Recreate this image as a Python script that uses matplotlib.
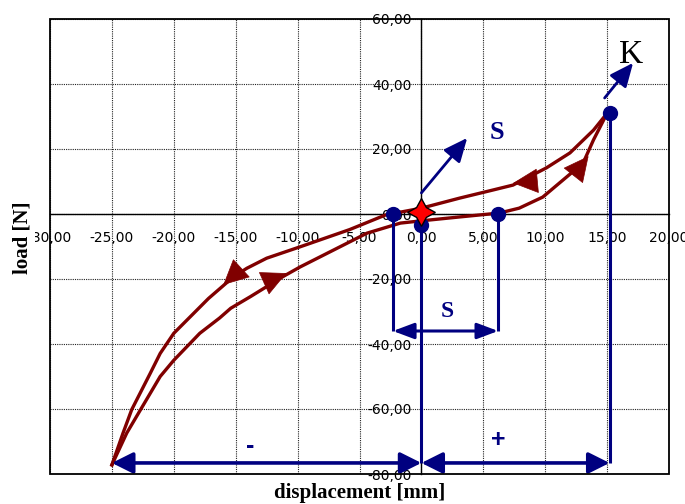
import matplotlib
matplotlib.use('Agg')
import matplotlib.pyplot as plt
from matplotlib.patches import Rectangle

# ---------------- data ----------------
x_ticks = [-30, -25, -20, -15, -10, -5, 0, 5, 10, 15, 20]
x_tick_labels = ["-30,00", "-25,00", "-20,00", "-15,00", "-10,00", "-5,00",
                 "0,00", "5,00", "10,00", "15,00", "20,00"]
y_ticks = [-80, -60, -40, -20, 0, 20, 40, 60]
y_tick_labels = ["-80,00", "-60,00", "-40,00", "-20,00", "0,00", "20,00", "40,00", "60,00"]

# unloading branch (from K down to the negative extreme)
upper_x = [15.0, 13.9, 12.0, 10.1, 7.4, 5.8, 3.1, 0.0, -2.9, -5.8, -9.8, -12.5,
           -14.1, -15.2, -17.2, -20.0, -21.1, -21.9, -23.4, -24.1, -25.0]
upper_y = [31.0, 25.8, 18.8, 14.2, 8.9, 7.4, 4.9, 1.8, -0.3, -4.8, -10.1, -13.6,
           -16.7, -19.4, -26.0, -36.7, -42.9, -49.0, -60.2, -67.4, -77.2]
# loading branch (from negative extreme back up to K)
lower_x = [-25.0, -23.8, -22.7, -21.1, -20.0, -17.9, -16.3, -15.4, -13.8, -11.2,
           -9.8, -7.1, -4.4, -1.7, 0.0, 3.1, 6.3, 7.9, 9.8, 12.2, 13.1, 13.9, 15.0]
lower_y = [-77.2, -67.4, -60.3, -50.0, -45.0, -36.7, -32.0, -29.0, -25.4, -19.3,
           -16.3, -11.1, -5.9, -2.8, -2.1, -0.9, 0.3, 1.8, 5.2, 12.9, 16.0, 22.8, 31.0]

# direction arrows on the curves: (base centre, tip)
curve_arrow_tails = [(9.1, 10.1), (-14.6, -16.9), (-12.7, -21.3), (12.3, 12.0)]
curve_arrow_tips = [(7.4, 9.5), (-16.0, -21.8), (-10.9, -18.2), (13.5, 17.8)]

# navy markers
marker_x = [-2.3, 0.0, 6.2, 15.2]
marker_y = [0.0, -3.3, 0.0, 31.2]
star_x = [0.0]
star_y = [0.6]

# navy construction lines: (x, y_top, y_bottom)
vlines = [(-2.3, 0.0, -36.0), (6.2, 0.0, -36.0), (0.0, -3.3, -76.6), (15.2, 31.2, -76.6)]
# double-headed dimension arrows: (x_start, x_end, y)
dim_small = [(-2.3, 6.2, -36.0)]
dim_big = [(-25.0, 0.0, -76.6), (0.0, 15.2, -76.6)]
# single arrows: (x0, y0, x1, y1)
single_arrows = [(0.0, 6.5, 3.7, 23.4), (14.8, 35.7, 17.1, 46.5)]

# ---------------- styling ----------------
maroon = '#800000'
navy = '#000080'
tick_family = ['Liberation Sans Narrow', 'Liberation Sans', 'DejaVu Sans']
serif = ['Liberation Serif', 'DejaVu Serif']

fig = plt.figure(figsize=(6.85, 5.04), dpi=100)
ax = fig.add_axes([50 / 685, 30 / 504, 619 / 685, 455 / 504])
ax.set_xlim(-30, 20)
ax.set_ylim(-80, 60)

ax.set_xticks(x_ticks)
ax.set_xticklabels(x_tick_labels, family=tick_family, fontsize=11)
ax.set_yticks(y_ticks)
ax.set_yticklabels(y_tick_labels, family=tick_family, fontsize=11)

for s in ['top', 'right']:
    ax.spines[s].set_visible(False)
ax.spines['left'].set_position(('data', 0))
ax.spines['bottom'].set_position(('data', 0))
ax.spines['left'].set_linewidth(1.0)
ax.spines['bottom'].set_linewidth(1.0)
ax.tick_params(axis='x', length=0, pad=12)
ax.tick_params(axis='y', length=0, pad=7)
ax.grid(True, color='#222222', linestyle=(0, (1, 1)), linewidth=0.8)
ax.set_axisbelow(True)
ax.add_patch(Rectangle((0, 0), 1, 1, transform=ax.transAxes, fill=False,
                       edgecolor='black', lw=1.3, clip_on=False, zorder=5))

# curves
ax.plot(upper_x, upper_y, color=maroon, lw=2.4, solid_joinstyle='round', zorder=3)
ax.plot(lower_x, lower_y, color=maroon, lw=2.4, solid_joinstyle='round', zorder=3)
for (tx, ty), (hx, hy) in zip(curve_arrow_tails, curve_arrow_tips):
    ax.annotate('', xy=(hx, hy), xytext=(tx, ty),
                arrowprops=dict(arrowstyle='-|>,head_length=0.85,head_width=0.42',
                                mutation_scale=20, color=maroon, lw=0.5,
                                shrinkA=0, shrinkB=0), zorder=4)

# navy construction
for x, y0, y1 in vlines:
    ax.plot([x, x], [y0, y1], color=navy, lw=2.2, zorder=4, solid_capstyle='butt')
for x0, x1, y in dim_small:
    ax.annotate('', xy=(x1, y), xytext=(x0, y),
                arrowprops=dict(arrowstyle='<|-|>,head_length=0.8,head_width=0.3',
                                mutation_scale=16, color=navy, lw=2.2,
                                shrinkA=0, shrinkB=0), zorder=4)
for x0, x1, y in dim_big:
    ax.annotate('', xy=(x1, y), xytext=(x0, y),
                arrowprops=dict(arrowstyle='<|-|>,head_length=0.8,head_width=0.4',
                                mutation_scale=16, color=navy, lw=2.6,
                                shrinkA=0, shrinkB=0), zorder=4)
for x0, y0, x1, y1 in single_arrows:
    ax.annotate('', xy=(x1, y1), xytext=(x0, y0),
                arrowprops=dict(arrowstyle='-|>,head_length=0.9,head_width=0.4',
                                mutation_scale=16, color=navy, lw=2.0,
                                shrinkA=0, shrinkB=0), zorder=4)

ax.plot(marker_x, marker_y, 'o', color=navy, markersize=10, zorder=6, ls='none')
ax.plot(star_x, star_y, marker=(4, 1, 0), color='red', markeredgecolor='black',
        markeredgewidth=1.0, markersize=20, zorder=7, ls='none')

# annotations
ax.text(6.1, 25.0, 'S', color=navy, fontsize=19, fontweight='bold', family=serif,
        ha='center', va='center', zorder=6)
ax.text(2.1, -30.0, 'S', color=navy, fontsize=17, fontweight='bold', family=serif,
        ha='center', va='center', zorder=6)
ax.text(16.9, 49.0, 'K', color='black', fontsize=24, family=serif,
        ha='center', va='center', zorder=6)
ax.text(-13.8, -71.5, '-', color=navy, fontsize=18, fontweight='bold', family=tick_family,
        ha='center', va='center', zorder=6)
ax.text(6.2, -69.5, '+', color=navy, fontsize=18, fontweight='bold', family=tick_family,
        ha='center', va='center', zorder=6)

fig.text(360 / 685, 1 - 493 / 504, 'displacement [mm]', fontsize=15, fontweight='bold',
         family=serif, ha='center', va='center')
fig.text(23 / 685, 1 - 238 / 504, 'load [N]', fontsize=15, fontweight='bold',
         family=serif, ha='center', va='center', rotation=90,
         bbox=dict(facecolor='white', edgecolor='none', pad=1.5))

fig.savefig('out.png', dpi=100)
